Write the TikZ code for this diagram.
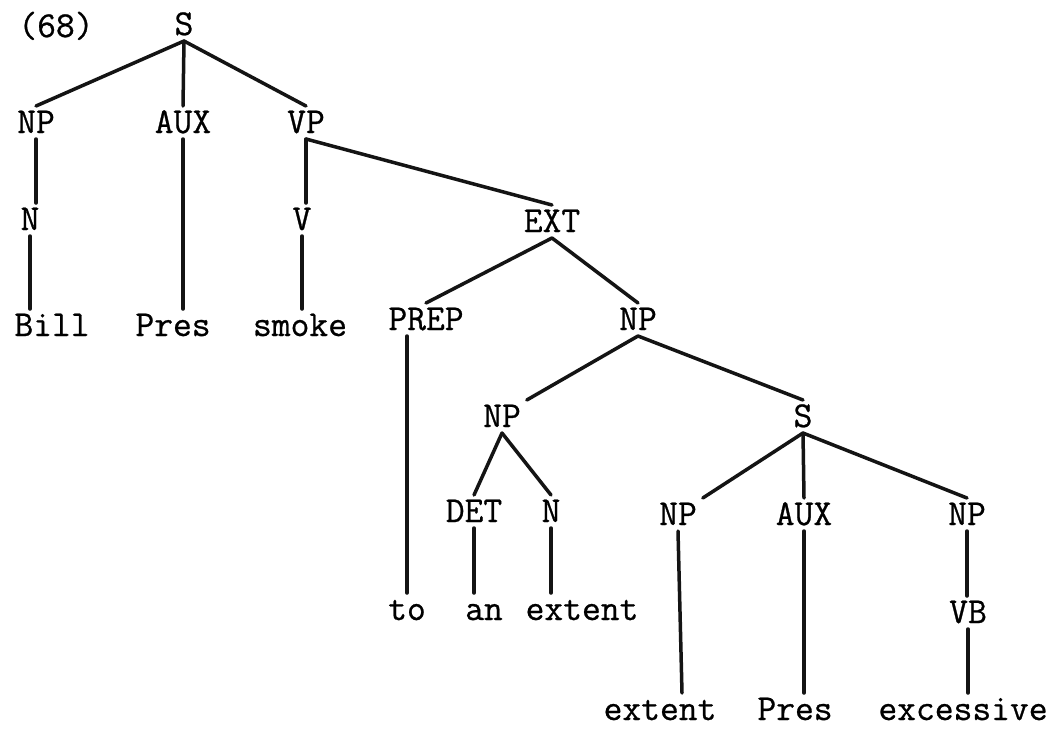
\documentclass[tikz,border=0pt]{standalone}
\usepackage{fontspec}
\setmonofont{Latin Modern Mono}[FakeBold=0.7]
\begin{document}
\begin{tikzpicture}[x=1pt,y=-1pt,
  lbl/.style={anchor=base,inner sep=0pt,outer sep=6pt,text height=21pt,text depth=0pt,
    font=\ttfamily\fontsize{36.5}{44}\selectfont},
  branch/.style={line width=3.5pt,line cap=round,black!92}]
\useasboundingbox (0,0) rectangle (1063,740);
\fill[white] (0,0) rectangle (1063,740);

% example number
\node[lbl] (num) at (56,37) {(68)};

% main clause
\node[lbl] (S)    at (184,35)  {S};
\node[lbl] (np1)  at (36,133)  {NP};
\node[lbl] (aux1) at (183,133) {AUX};
\node[lbl] (vp)   at (306,133) {VP};
\node[lbl] (n1)   at (30,230)  {N};
\node[lbl] (v)    at (302,230) {V};
\node[lbl] (ext)  at (552,232) {EXT};
\node[lbl] (bill) at (52,336)  {Bill};
\node[lbl] (pres1) at (173,336) {Pres};
\node[lbl] (smoke) at (300,336) {smoke};
\node[lbl] (prep) at (426,330) {PREP};
\node[lbl] (npa)  at (638,330) {NP};

% extent phrase
\node[lbl] (np2)  at (502,427) {NP};
\node[lbl] (s2)   at (803,427) {S};
\node[lbl] (det)  at (474,522) {DET};
\node[lbl] (n2)   at (551,522) {N};
\node[lbl] (np3)  at (678,525) {NP};
\node[lbl] (aux2) at (804,525) {AUX};
\node[lbl] (np4)  at (967,525) {NP};
\node[lbl] (to)   at (407,620) {to};
\node[lbl] (an)   at (484,620) {an};
\node[lbl] (ext1) at (582,620) {extent};
\node[lbl] (vb)   at (968,623) {VB};
\node[lbl] (ext2) at (660,720) {extent};
\node[lbl] (pres2) at (795,720) {Pres};
\node[lbl] (exc)  at (963,720) {excessive};

% branches
\draw[branch] (S.south) -- (np1.north);
\draw[branch] (S.south) -- (aux1.north);
\draw[branch] (S.south) -- (vp.north);
\draw[branch] (np1.south) -- (np1.south |- n1.north);
\draw[branch] (n1.south) -- (n1.south |- bill.north);
\draw[branch] (aux1.south) -- (aux1.south |- pres1.north);
\draw[branch] (vp.south) -- (vp.south |- v.north);
\draw[branch] (v.south) -- (v.south |- smoke.north);
\draw[branch] (vp.south) -- (ext.north);
\draw[branch] (ext.south) -- (prep.north);
\draw[branch] (ext.south) -- (npa.north);
\draw[branch] (to.north |- prep.south) -- (to.north);
\draw[branch] (npa.south) -- (np2.north east);
\draw[branch] (npa.south) -- (s2.north);
\draw[branch] (np2.south) -- (det.north);
\draw[branch] (np2.south) -- (n2.north);
\draw[branch] (det.south) -- (det.south |- an.north);
\draw[branch] (n2.south) -- (n2.south |- ext1.north);
\draw[branch] (s2.south) -- (np3.north east);
\draw[branch] (s2.south) -- (aux2.north);
\draw[branch] (s2.south) -- (np4.north);
\draw[branch] (np3.south) -- ([xshift=4pt]np3.south |- ext2.north);
\draw[branch] (aux2.south) -- (aux2.south |- pres2.north);
\draw[branch] (np4.south) -- (np4.south |- vb.north);
\draw[branch] (vb.south) -- (vb.south |- exc.north);
\end{tikzpicture}
\end{document}
